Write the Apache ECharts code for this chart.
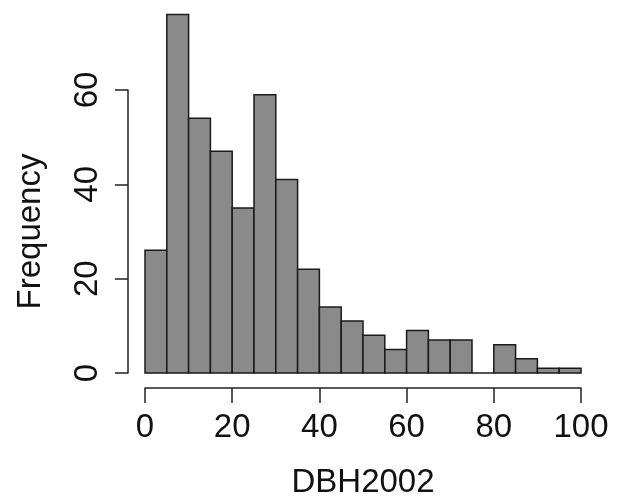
<!DOCTYPE html>
<html>
<head>
<meta charset="utf-8">
<script src="https://cdn.jsdelivr.net/npm/echarts@6/dist/echarts.min.js"></script>
<style>html,body{margin:0;padding:0;background:#fff}#c{width:620px;height:501px}</style>
</head>
<body>
<div id="c"></div>
<script>
const binStarts = [0,5,10,15,20,25,30,35,40,45,50,55,60,65,70,75,80,85,90,95];
const binWidth = 5;
const counts = [26,76,54,47,35,59,41,22,14,11,8,5,9,7,7,0,6,3,1,1];
const xTicks = [0,20,40,60,80,100];
const yTicks = [0,20,40,60];
const xTitle = 'DBH2002';
const yTitle = 'Frequency';

const data = binStarts.map((s,i)=>[s, s+binWidth, counts[i]]);
const font = 'Liberation Sans, Arial, sans-serif';
const fs = 33;
const lineCol = '#222';
const chart = echarts.init(document.getElementById('c'), null, {renderer:'canvas'});
chart.setOption({
  animation:false,
  backgroundColor:'#fff',
  grid:[
    {left:145, right:39, top:90, bottom:128, containLabel:false, outerBoundsMode:'none'},
    {left:128, right:39, top:90, bottom:128, containLabel:false, outerBoundsMode:'none'}
  ],
  xAxis:[{
    gridIndex:0,
    type:'value', min:xTicks[0], max:xTicks[xTicks.length-1], interval:20,
    offset:15,
    splitLine:{show:false},
    axisLine:{show:true, onZero:false, lineStyle:{color:lineCol, width:1.5}},
    axisTick:{show:true, length:15, lineStyle:{color:lineCol, width:1.5}},
    axisLabel:{fontFamily:font, fontSize:fs, color:'#111', margin:23},
    name:xTitle, nameLocation:'middle', nameGap:78, nameMoveOverlap:false,
    nameTextStyle:{fontFamily:font, fontSize:fs, color:'#111'}
  },{
    gridIndex:1, type:'value', min:0, max:1, show:false
  }],
  yAxis:[{
    gridIndex:0,
    type:'value', min:yTicks[0], max:yTicks[yTicks.length-1], interval:20,
    show:false
  },{
    gridIndex:1,
    type:'value', min:yTicks[0], max:yTicks[yTicks.length-1], interval:20,
    position:'left',
    splitLine:{show:false},
    axisLine:{show:true, onZero:false, lineStyle:{color:lineCol, width:1.5}},
    axisTick:{show:true, length:13, lineStyle:{color:lineCol, width:1.5}},
    axisLabel:{fontFamily:font, fontSize:fs, color:'#111', margin:24, rotate:90},
    name:yTitle, nameLocation:'middle', nameGap:81, nameRotate:90, nameMoveOverlap:false,
    nameTextStyle:{fontFamily:font, fontSize:fs, color:'#111'}
  }],
  series:[{
    type:'custom',
    xAxisIndex:0, yAxisIndex:0,
    clip:false,
    data:data,
    encode:{x:[0,1], y:2},
    renderItem:function(params, api){
      const p0 = api.coord([api.value(0), api.value(2)]);
      const p1 = api.coord([api.value(1), 0]);
      return {type:'rect', shape:{x:p0[0], y:p0[1], width:p1[0]-p0[0], height:p1[1]-p0[1]},
        style:{fill:'#8a8a8a', stroke:'#1a1a1a', lineWidth:1.5}};
    }
  }]
});
</script>
</body>
</html>
